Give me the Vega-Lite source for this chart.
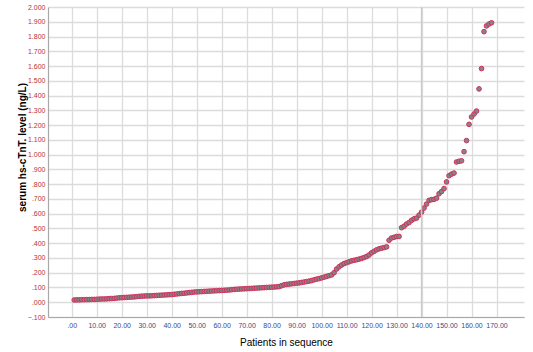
{
  "$schema": "https://vega.github.io/schema/vega-lite/v6.json",
  "width": 476,
  "height": 310,
  "autosize": "none",
  "padding": {"left": 48, "top": 7, "right": 9, "bottom": 35},
  "background": "white",
  "config": {"view": {"stroke": null}, "font": "Liberation Sans", "axis": {"labelOverlap": false}},
  "datasets": {
    "pts": [
      {"patient":1,"tnt":0.015},{"patient":2,"tnt":0.016},{"patient":3,"tnt":0.016},{"patient":4,"tnt":0.017},{"patient":5,"tnt":0.017},{"patient":6,"tnt":0.018},{"patient":7,"tnt":0.018},{"patient":8,"tnt":0.019},{"patient":9,"tnt":0.019},{"patient":10,"tnt":0.020},
      {"patient":11,"tnt":0.021},{"patient":12,"tnt":0.022},{"patient":13,"tnt":0.022},{"patient":14,"tnt":0.023},{"patient":15,"tnt":0.024},{"patient":16,"tnt":0.025},{"patient":17,"tnt":0.026},{"patient":18,"tnt":0.028},{"patient":19,"tnt":0.030},{"patient":20,"tnt":0.031},
      {"patient":21,"tnt":0.032},{"patient":22,"tnt":0.033},{"patient":23,"tnt":0.034},{"patient":24,"tnt":0.035},{"patient":25,"tnt":0.036},{"patient":26,"tnt":0.038},{"patient":27,"tnt":0.040},{"patient":28,"tnt":0.041},{"patient":29,"tnt":0.042},{"patient":30,"tnt":0.043},
      {"patient":31,"tnt":0.043},{"patient":32,"tnt":0.044},{"patient":33,"tnt":0.045},{"patient":34,"tnt":0.046},{"patient":35,"tnt":0.047},{"patient":36,"tnt":0.048},{"patient":37,"tnt":0.049},{"patient":38,"tnt":0.050},{"patient":39,"tnt":0.051},{"patient":40,"tnt":0.052},
      {"patient":41,"tnt":0.054},{"patient":42,"tnt":0.056},{"patient":43,"tnt":0.058},{"patient":44,"tnt":0.060},{"patient":45,"tnt":0.061},{"patient":46,"tnt":0.063},{"patient":47,"tnt":0.065},{"patient":48,"tnt":0.067},{"patient":49,"tnt":0.069},{"patient":50,"tnt":0.070},
      {"patient":51,"tnt":0.071},{"patient":52,"tnt":0.072},{"patient":53,"tnt":0.073},{"patient":54,"tnt":0.074},{"patient":55,"tnt":0.075},{"patient":56,"tnt":0.076},{"patient":57,"tnt":0.077},{"patient":58,"tnt":0.078},{"patient":59,"tnt":0.079},{"patient":60,"tnt":0.080},
      {"patient":61,"tnt":0.081},{"patient":62,"tnt":0.082},{"patient":63,"tnt":0.083},{"patient":64,"tnt":0.085},{"patient":65,"tnt":0.087},{"patient":66,"tnt":0.088},{"patient":67,"tnt":0.089},{"patient":68,"tnt":0.090},{"patient":69,"tnt":0.091},{"patient":70,"tnt":0.092},
      {"patient":71,"tnt":0.093},{"patient":72,"tnt":0.094},{"patient":73,"tnt":0.095},{"patient":74,"tnt":0.096},{"patient":75,"tnt":0.097},{"patient":76,"tnt":0.098},{"patient":77,"tnt":0.099},{"patient":78,"tnt":0.100},{"patient":79,"tnt":0.101},{"patient":80,"tnt":0.102},
      {"patient":81,"tnt":0.103},{"patient":82,"tnt":0.104},{"patient":83,"tnt":0.106},{"patient":84,"tnt":0.112},{"patient":85,"tnt":0.118},{"patient":86,"tnt":0.121},{"patient":87,"tnt":0.123},{"patient":88,"tnt":0.125},{"patient":89,"tnt":0.127},{"patient":90,"tnt":0.129},
      {"patient":91,"tnt":0.131},{"patient":92,"tnt":0.134},{"patient":93,"tnt":0.137},{"patient":94,"tnt":0.140},{"patient":95,"tnt":0.143},{"patient":96,"tnt":0.147},{"patient":97,"tnt":0.152},{"patient":98,"tnt":0.156},{"patient":99,"tnt":0.160},{"patient":100,"tnt":0.165},
      {"patient":101,"tnt":0.170},{"patient":102,"tnt":0.175},{"patient":103,"tnt":0.180},{"patient":104,"tnt":0.185},{"patient":105,"tnt":0.200},{"patient":106,"tnt":0.225},{"patient":107,"tnt":0.240},{"patient":108,"tnt":0.252},{"patient":109,"tnt":0.262},{"patient":110,"tnt":0.268},
      {"patient":111,"tnt":0.274},{"patient":112,"tnt":0.280},{"patient":113,"tnt":0.284},{"patient":114,"tnt":0.288},{"patient":115,"tnt":0.292},{"patient":116,"tnt":0.297},{"patient":117,"tnt":0.303},{"patient":118,"tnt":0.310},{"patient":119,"tnt":0.320},{"patient":120,"tnt":0.335},
      {"patient":121,"tnt":0.345},{"patient":122,"tnt":0.355},{"patient":123,"tnt":0.362},{"patient":124,"tnt":0.366},{"patient":125,"tnt":0.370},{"patient":126,"tnt":0.375},{"patient":127,"tnt":0.420},{"patient":128,"tnt":0.435},{"patient":129,"tnt":0.440},{"patient":130,"tnt":0.445},
      {"patient":131,"tnt":0.446},{"patient":132,"tnt":0.505},{"patient":133,"tnt":0.515},{"patient":134,"tnt":0.530},{"patient":135,"tnt":0.540},{"patient":136,"tnt":0.555},{"patient":137,"tnt":0.565},{"patient":138,"tnt":0.570},{"patient":139,"tnt":0.590},{"patient":140,"tnt":0.610},
      {"patient":141,"tnt":0.638},{"patient":142,"tnt":0.665},{"patient":143,"tnt":0.690},{"patient":144,"tnt":0.695},{"patient":145,"tnt":0.697},{"patient":146,"tnt":0.705},{"patient":147,"tnt":0.735},{"patient":148,"tnt":0.750},{"patient":149,"tnt":0.770},{"patient":150,"tnt":0.815},
      {"patient":151,"tnt":0.857},{"patient":152,"tnt":0.868},{"patient":153,"tnt":0.875},{"patient":154,"tnt":0.950},{"patient":155,"tnt":0.955},{"patient":156,"tnt":0.958},{"patient":157,"tnt":1.020},{"patient":158,"tnt":1.095},{"patient":159,"tnt":1.205},{"patient":160,"tnt":1.255},
      {"patient":161,"tnt":1.275},{"patient":162,"tnt":1.295},{"patient":163,"tnt":1.445},{"patient":164,"tnt":1.583},{"patient":165,"tnt":1.833},{"patient":166,"tnt":1.872},{"patient":167,"tnt":1.885},{"patient":168,"tnt":1.893}
    ],
    "ref": [{"patient": 140}]
  },
  "encoding": {
    "x": {
      "field": "patient", "type": "quantitative",
      "scale": {"domain": [-9.5, 181], "nice": false, "zero": false},
      "axis": {
        "title": "Patients in sequence",
        "titleFont": "Liberation Sans", "titleFontSize": 10, "titleFontWeight": "normal", "titleColor": "#000000", "titlePadding": 9,
        "values": [0,10,20,30,40,50,60,70,80,90,100,110,120,130,140,150,160,170],
        "labelExpr": "datum.value == 0 ? '.00' : format(datum.value, '.2f')",
        "labelOverlap": false,
        "labelFont": "Liberation Sans", "labelFontSize": 7, "labelColor": "#3a4a8a", "labelPadding": 4,
        "ticks": false, "grid": true, "gridColor": "#dcdcdc", "gridWidth": 1.3,
        "domainColor": "#a8a8a8", "domainWidth": 1.2
      }
    }
  },
  "layer": [
    {
      "data": {"name": "pts"},
      "mark": {"type": "point", "filled": true, "shape": "circle", "size": 22, "fill": "#858585", "stroke": "#d42e5c", "strokeWidth": 1, "opacity": 1, "fillOpacity": 1},
      "encoding": {
        "y": {
          "field": "tnt", "type": "quantitative",
          "scale": {"domain": [-0.1, 2.0], "nice": false, "zero": false},
          "axis": {
            "title": "serum hs-cTnT. level (ng/L)",
            "titleFont": "Liberation Sans", "titleFontSize": 10, "titleFontWeight": "bold", "titleColor": "#000000",
            "titleX": -21, "titleY": 140,
            "values": [-0.1,0,0.1,0.2,0.3,0.4,0.5,0.6,0.7,0.8,0.9,1.0,1.1,1.2,1.3,1.4,1.5,1.6,1.7,1.8,1.9,2.0],
            "labelExpr": "abs(datum.value) < 1 ? replace(format(datum.value, '.3f'), '0.', '.') : format(datum.value, '.3f')",
            "labelOverlap": false,
            "labelFont": "Liberation Sans", "labelFontSize": 7, "labelColor": "#b8312f", "labelPadding": 3,
            "ticks": false, "grid": true, "gridColor": "#dcdcdc", "gridWidth": 1.3,
            "domainColor": "#a8a8a8", "domainWidth": 1.2
          }
        }
      }
    },
    {
      "data": {"name": "ref"},
      "mark": {"type": "rule", "color": "#cacaca", "strokeWidth": 1.4},
      "encoding": {}
    }
  ]
}
